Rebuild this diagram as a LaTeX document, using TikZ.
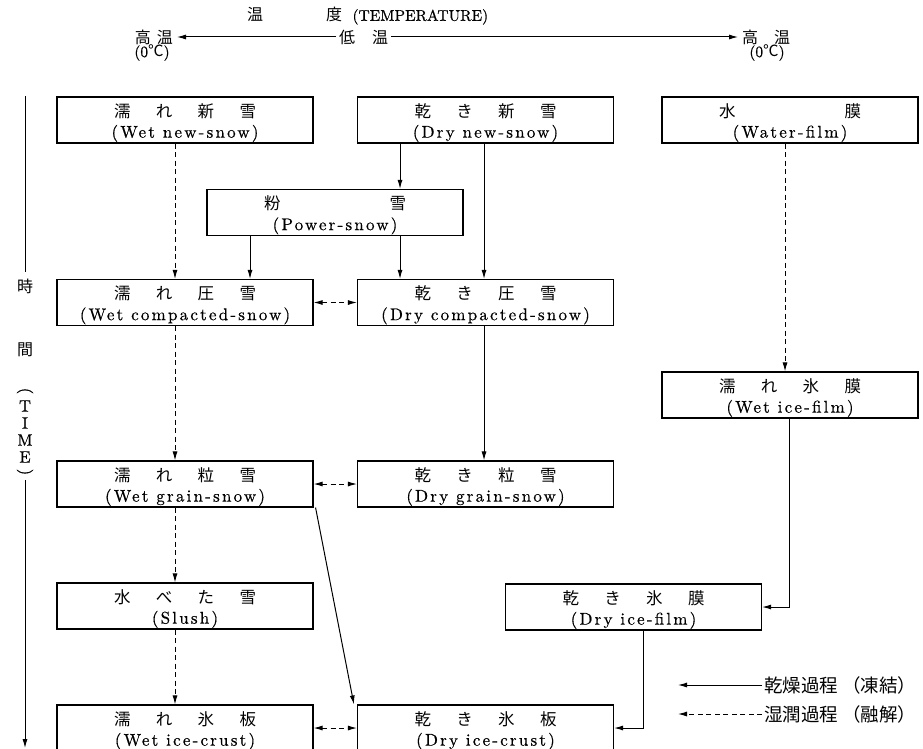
\documentclass[tikz,border=0pt]{standalone}
\usepackage{fontspec}
\newfontfamily\cjk{Noto Sans CJK JP}
\newfontfamily\enfont[LetterSpace=13,FakeBold=0.5]{lmroman10-regular.otf}
\newfontfamily\enhead[FakeBold=0.5]{lmroman10-regular.otf}
\usetikzlibrary{arrows.meta,calc}
\newcommand\lbl[2]{{\cjk\fontsize{16.5pt}{20pt}\selectfont\rule{0pt}{19pt}\makebox[142pt][s]{#1}}\\[0.5pt]{\enfont #2}}
\tikzset{
  box/.style={draw, line width=1.1pt, minimum width=256pt, minimum height=46pt, inner sep=0pt, align=center, font=\fontsize{17pt}{20pt}\selectfont},
  plain/.style={line width=1pt},
  dry/.style={line width=1pt, -{Latex[length=9pt,width=5pt]}},
  wet/.style={dry, dash pattern=on 5pt off 3.5pt},
  both/.style={line width=1pt, dash pattern=on 5pt off 3.5pt, {Latex[length=9pt,width=5pt]}-{Latex[length=9pt,width=5pt]}},
  jp/.style={font=\cjk\fontsize{16pt}{18pt}\selectfont},
  lgjp/.style={font=\cjk\fontsize{18.5pt}{20pt}\selectfont},
  en/.style={font=\enhead\fontsize{15.5pt}{17pt}\selectfont},
  ent/.style={font=\enhead\fontsize{16.5pt}{17pt}\selectfont},
}
\begin{document}
\begin{tikzpicture}[x=1pt,y=-1pt]
\useasboundingbox (0,0) rectangle (923,749);
\clip (0,0) rectangle (923,749);

% header
\node[anchor=west, inner sep=0pt, en] (title) at (247,16) {\makebox[95pt][s]{\cjk\fontsize{16pt}{18pt}\selectfont 温\hfill 度}\ \ (TEMPERATURE)};
\node[anchor=east, inner sep=4pt, jp] (hiL) at (177,37) {\makebox[38pt][s]{高\hfill 温}};
\node[inner sep=0pt, en] (hiL0) at (152,53) {(0{\cjk ℃})};
\node[anchor=west, inner sep=3pt, jp] (lowT) at (336,37) {\makebox[49pt][s]{低\hfill 温}};
\node[anchor=west, inner sep=4pt, jp] (hiR) at (738,37) {\makebox[48pt][s]{高\hfill 温}};
\node[inner sep=0pt, en] (hiR0) at (767,53) {(0{\cjk ℃})};
\draw[dry] (lowT.west) -- (hiL.east);
\draw[dry] (lowT.east) -- (hiR.west);

% time axis
\coordinate (ax1) at (25,96);
\coordinate (ax2) at (25,272);
\coordinate (ax3) at (25,480);
\coordinate (ax4) at (25,748);
\node[jp] (t1) at (25,286) {時};
\node[jp] (t2) at (25,350) {間};
\node[ent, rotate=-90, inner sep=0pt] (tp1) at (25,391) {(};
\node[ent, inner sep=0pt] (tT) at (25,406) {T};
\node[ent, inner sep=0pt] (tI) at (25,423) {I};
\node[ent, inner sep=0pt] (tM) at (25,440) {M};
\node[ent, inner sep=0pt] (tE) at (25,457) {E};
\node[ent, rotate=-90, inner sep=0pt] (tp2) at (25,472) {)};
\draw[plain] (ax1) -- (ax2);
\draw[dry] (ax3) -- (ax4);

% boxes
\node[box] (wns) at (185,120) {\lbl{濡\hfill れ\hfill 新\hfill 雪}{(Wet new-snow)}};
\node[box] (dns) at (485.5,120) {\lbl{乾\hfill き\hfill 新\hfill 雪}{(Dry new-snow)}};
\node[box] (wf) at (790,120) {\lbl{水\hfill 膜}{(Water-film)}};
\node[box] (ps) at (335,212.5) {\lbl{粉\hfill 雪}{(Power-snow)}};
\node[box] (wcs) at (185,302.5) {\lbl{濡\hfill れ\hfill 圧\hfill 雪}{(Wet compacted-snow)}};
\node[box] (dcs) at (485.5,302.5) {\lbl{乾\hfill き\hfill 圧\hfill 雪}{(Dry compacted-snow)}};
\node[box] (wif) at (790,395) {\lbl{濡\hfill れ\hfill 氷\hfill 膜}{(Wet ice-film)}};
\node[box] (wgs) at (185,484) {\lbl{濡\hfill れ\hfill 粒\hfill 雪}{(Wet grain-snow)}};
\node[box] (dgs) at (485.5,484) {\lbl{乾\hfill き\hfill 粒\hfill 雪}{(Dry grain-snow)}};
\node[box] (sl) at (185,606) {\lbl{水\hfill べ\hfill た\hfill 雪}{(Slush)}};
\node[box] (dif) at (633.5,607) {\lbl{乾\hfill き\hfill 氷\hfill 膜}{(Dry ice-film)}};
\node[box] (wic) at (185,728) {\lbl{濡\hfill れ\hfill 氷\hfill 板}{(Wet ice-crust)}};
\node[box] (dic) at (485.5,728) {\lbl{乾\hfill き\hfill 氷\hfill 板}{(Dry ice-crust)}};

% column guides
\coordinate (cA) at (175,0);
\coordinate (cB) at (250,0);
\coordinate (cC) at (400,0);
\coordinate (cD) at (484,0);
\coordinate (cE) at (785,0);
\coordinate (cF) at (789,0);
\coordinate (cG) at (643,0);

% connectors
\draw[wet] (wns.south -| cA) -- (wcs.north -| cA);
\draw[dry] (dns.south -| cC) -- (ps.north -| cC);
\draw[dry] (dns.south -| cD) -- (dcs.north -| cD);
\draw[dry] (ps.south -| cB) -- (wcs.north -| cB);
\draw[dry] (ps.south -| cC) -- (dcs.north -| cC);
\draw[both] (wcs.east) -- (dcs.west);
\draw[wet] (wcs.south -| cA) -- (wgs.north -| cA);
\draw[dry] (dcs.south -| cD) -- (dgs.north -| cD);
\draw[wet] (wf.south -| cE) -- (wif.north -| cE);
\draw[dry] (wif.south -| cF) |- (dif.east);
\draw[both] (wgs.east) -- (dgs.west);
\draw[wet] (wgs.south -| cA) -- (sl.north -| cA);
\draw[dry] ([xshift=2pt]wgs.south east) -- ([xshift=-3pt]dic.north west);
\draw[wet] (sl.south -| cA) -- (wic.north -| cA);
\draw[both] (wic.east) -- (dic.west);
\draw[dry] (dif.south -| cG) |- (dic.east);

% legend
\coordinate (l1) at (678,685);
\coordinate (l2) at (678,714);
\node[anchor=west, inner sep=2pt, lgjp] (lg1) at (762,685) {乾燥過程\hspace{4pt}（凍結）};
\node[anchor=west, inner sep=2pt, lgjp] (lg2) at (762,714) {湿潤過程\hspace{4pt}（融解）};
\draw[dry] (lg1.west) -- (l1);
\draw[wet] (lg2.west) -- (l2);
\end{tikzpicture}
\end{document}
